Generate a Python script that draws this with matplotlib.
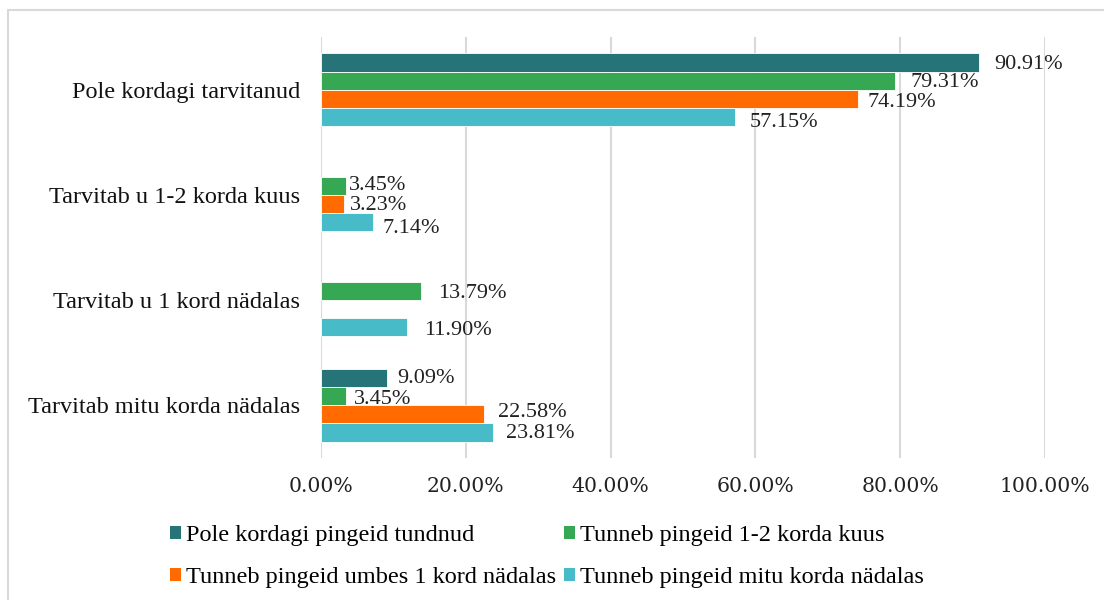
import numpy as np
import matplotlib
matplotlib.use('Agg')
import matplotlib.pyplot as plt
from matplotlib.patches import Patch
from matplotlib.lines import Line2D

# Categories (top to bottom) and series values in percent
categories = ['Pole kordagi tarvitanud', 'Tarvitab u 1-2 korda kuus',
              'Tarvitab u 1 kord nädalas', 'Tarvitab mitu korda nädalas']
series_names = ['Pole kordagi pingeid tundnud', 'Tunneb pingeid 1-2 korda kuus',
                'Tunneb pingeid umbes 1 kord nädalas', 'Tunneb pingeid mitu korda nädalas']
never_stress = [90.91, np.nan, np.nan, 9.09]
stress_monthly = [79.31, 3.45, 13.79, 3.45]
stress_weekly = [74.19, 3.23, np.nan, 22.58]
stress_often = [57.15, 7.14, 11.90, 23.81]
series_values = [never_stress, stress_monthly, stress_weekly, stress_often]
x_ticks = [0, 20, 40, 60, 80, 100]
x_tick_labels = ['0.00%', '20.00%', '40.00%', '60.00%', '80.00%', '100.00%']

colors = ['#267378', '#36A854', '#FF6B00', '#47BCC8']

# label nudges in pixels (per series, per category), as placed in the original
label_dx = [[15, 0, 0, 10], [15, 3, 17, 8], [9, 6, 0, 14], [15, 10, 17, 13]]
label_dy = [[-2, 0, 0, 0], [-2, 0, -2, -3], [-4, -2, 0, 2], [-6, -6, -3, -1]]

fig = plt.figure(figsize=(11.04, 6), dpi=100)
ax = fig.add_axes([321 / 1104, 1 - 458 / 600, (1045 - 321) / 1104, (458 - 37) / 600])

y = np.arange(len(categories))
h = 0.172
offsets = [-1.5 * h, -0.5 * h, 0.5 * h, 1.5 * h]

for i, vals in enumerate(series_values):
    ax.barh(y + offsets[i], vals, height=h, color=colors[i],
            edgecolor='white', linewidth=0.6, zorder=3)
    for j, v in enumerate(vals):
        if np.isnan(v):
            continue
        ax.annotate(f'{v:.2f}%', (v, y[j] + offsets[i]),
                    xytext=(label_dx[i][j], label_dy[i][j]), textcoords='offset pixels',
                    ha='left', va='center', fontsize=16,
                    family='Liberation Serif', color='#222222',
                    annotation_clip=False, zorder=4)

ax.set_xlim(0, 100)
ax.set_ylim(3.5, -0.5)
ax.set_xticks(x_ticks)
ax.set_xticklabels(x_tick_labels, family='DejaVu Serif', fontsize=14.7, color='#222222')
ax.set_yticks(y)
ax.set_yticklabels(categories, family='Liberation Serif', fontsize=17.5, color='#111111')
ax.tick_params(axis='both', length=0)
ax.tick_params(axis='x', pad=14)
ax.tick_params(axis='y', pad=15)
ax.grid(axis='x', color='#d9d9d9', linewidth=1.5, zorder=0)
ax.set_axisbelow(True)
for s in ax.spines.values():
    s.set_visible(False)

# legend filled row by row
order = [0, 2, 1, 3]
handles = [Patch(facecolor=colors[k], edgecolor='none') for k in order]
labels = [series_names[k] for k in order]
leg = fig.legend(handles, labels, loc='upper left',
                 bbox_to_anchor=(170 / 1104, 1 - 525 / 600), ncol=2, frameon=False,
                 prop={'family': 'Liberation Serif', 'size': 17.5},
                 handlelength=0.45, handleheight=0.45, handletextpad=0.2,
                 columnspacing=0.35, labelspacing=0.88, borderpad=0, borderaxespad=0)

# outer chart border (cropped at right and bottom)
fig.add_artist(Line2D([8 / 1104, 8 / 1104], [0, 1 - 10 / 600], transform=fig.transFigure,
                      color='#d9d9d9', linewidth=1.5))
fig.add_artist(Line2D([8 / 1104, 1], [1 - 10 / 600, 1 - 10 / 600], transform=fig.transFigure,
                      color='#d9d9d9', linewidth=1.5))

fig.savefig('out.png', dpi=100, facecolor='white')
